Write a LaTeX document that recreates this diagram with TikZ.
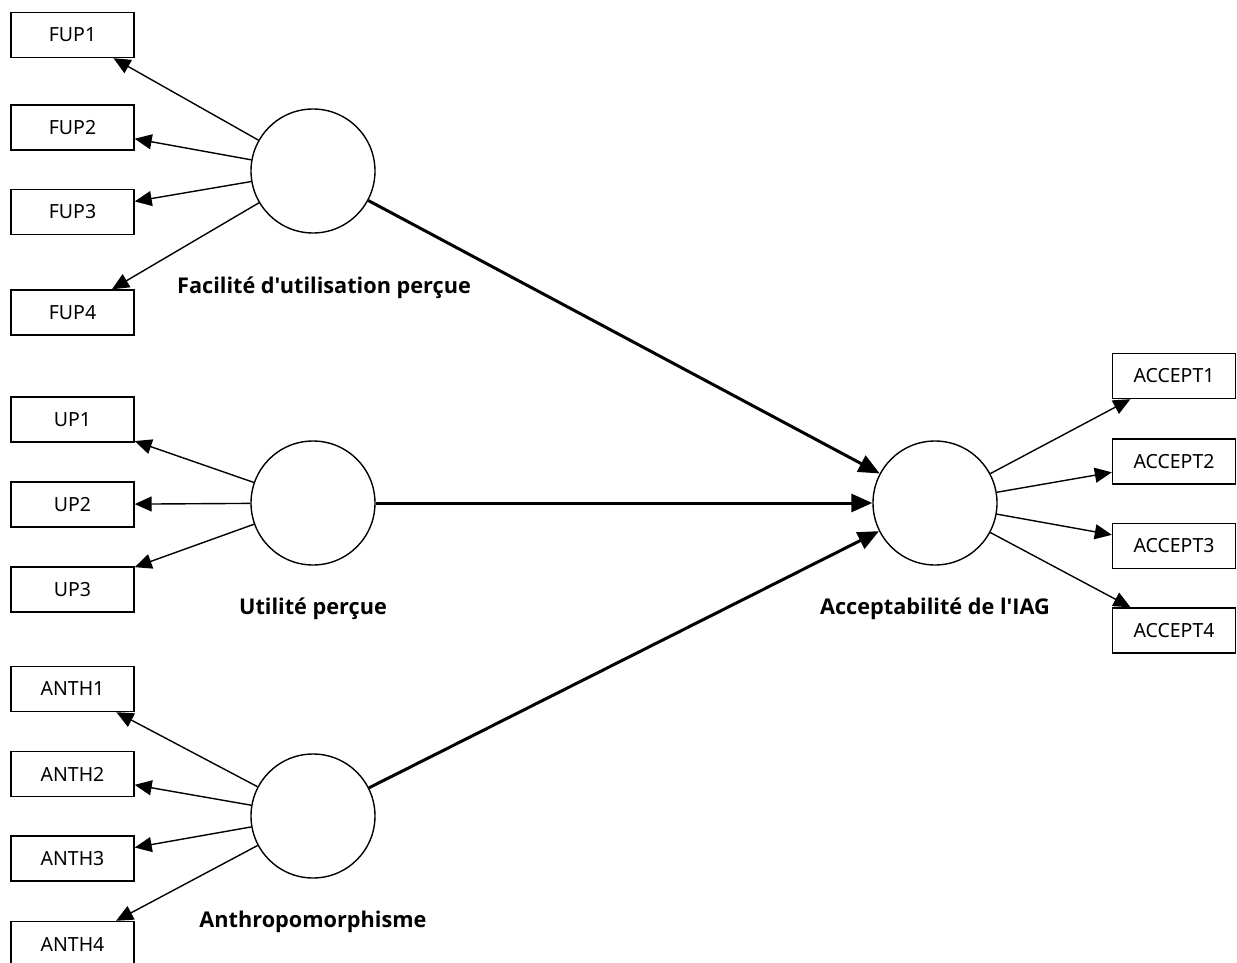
\documentclass[tikz,border=0pt]{standalone}
\usepackage{fontspec}
\setmainfont{Noto Sans}
\newfontfamily\labfont{Open Sans}
\usetikzlibrary{arrows.meta}
\begin{document}
\begin{tikzpicture}[x=1pt,y=-1pt,
  ind/.style={draw,line width=1.4pt,minimum width=123pt,minimum height=45pt,inner sep=0pt,font=\fontsize{19.5}{22}\selectfont},
  lat/.style={draw,circle,line width=1.4pt,minimum size=124pt,inner sep=0pt},
  latlabel/.style={font=\labfont\fontsize{21.7}{24}\selectfont\bfseries,inner sep=0pt},
  thinarrow/.style={line width=1.4pt,-{Triangle[length=17pt,width=15pt]}},
  thickarrow/.style={line width=3pt,-{Triangle[length=21pt,width=18pt]}}
]
\clip (0,0) rectangle (1237,963);
\fill[white] (0,0) rectangle (1237,963);

% latent variables
\node[lat] (fup) at (313,171) {};
\node[lat] (up) at (313,503) {};
\node[lat] (anth) at (313,816) {};
\node[lat] (acc) at (935,503) {};

\node[latlabel] (fupl) at (324,288) {Facilité d'utilisation perçue};
\node[latlabel] (upl) at (313,609) {Utilité perçue};
\node[latlabel] (anthl) at (313,922) {Anthropomorphisme};
\node[latlabel] (accl) at (935,609) {Acceptabilité de l'IAG};

% indicators
\node[ind] (fup1) at (72.5,35) {FUP1};
\node[ind] (fup2) at (72.5,127.5) {FUP2};
\node[ind] (fup3) at (72.5,212) {FUP3};
\node[ind] (fup4) at (72.5,312.5) {FUP4};

\node[ind] (up1) at (72.5,419.5) {UP1};
\node[ind] (up2) at (72.5,504.5) {UP2};
\node[ind] (up3) at (72.5,589.5) {UP3};

\node[ind] (anth1) at (72.5,689) {ANTH1};
\node[ind] (anth2) at (72.5,774) {ANTH2};
\node[ind] (anth3) at (72.5,858.5) {ANTH3};
\node[ind] (anth4) at (72.5,944) {ANTH4};

\node[ind] (acc1) at (1174,376) {ACCEPT1};
\node[ind] (acc2) at (1174,461.5) {ACCEPT2};
\node[ind] (acc3) at (1174,546) {ACCEPT3};
\node[ind] (acc4) at (1174,630.5) {ACCEPT4};

% measurement arrows
\foreach \i in {1,2,3,4} {\draw[thinarrow] (fup) -- (fup\i);}
\foreach \i in {1,2,3} {\draw[thinarrow] (up) -- (up\i);}
\foreach \i in {1,2,3,4} {\draw[thinarrow] (anth) -- (anth\i);}
\foreach \i in {1,2,3,4} {\draw[thinarrow] (acc) -- (acc\i);}

% structural arrows
\draw[thickarrow] (fup) -- (acc);
\draw[thickarrow] (up) -- (acc);
\draw[thickarrow] (anth) -- (acc);
\end{tikzpicture}
\end{document}
